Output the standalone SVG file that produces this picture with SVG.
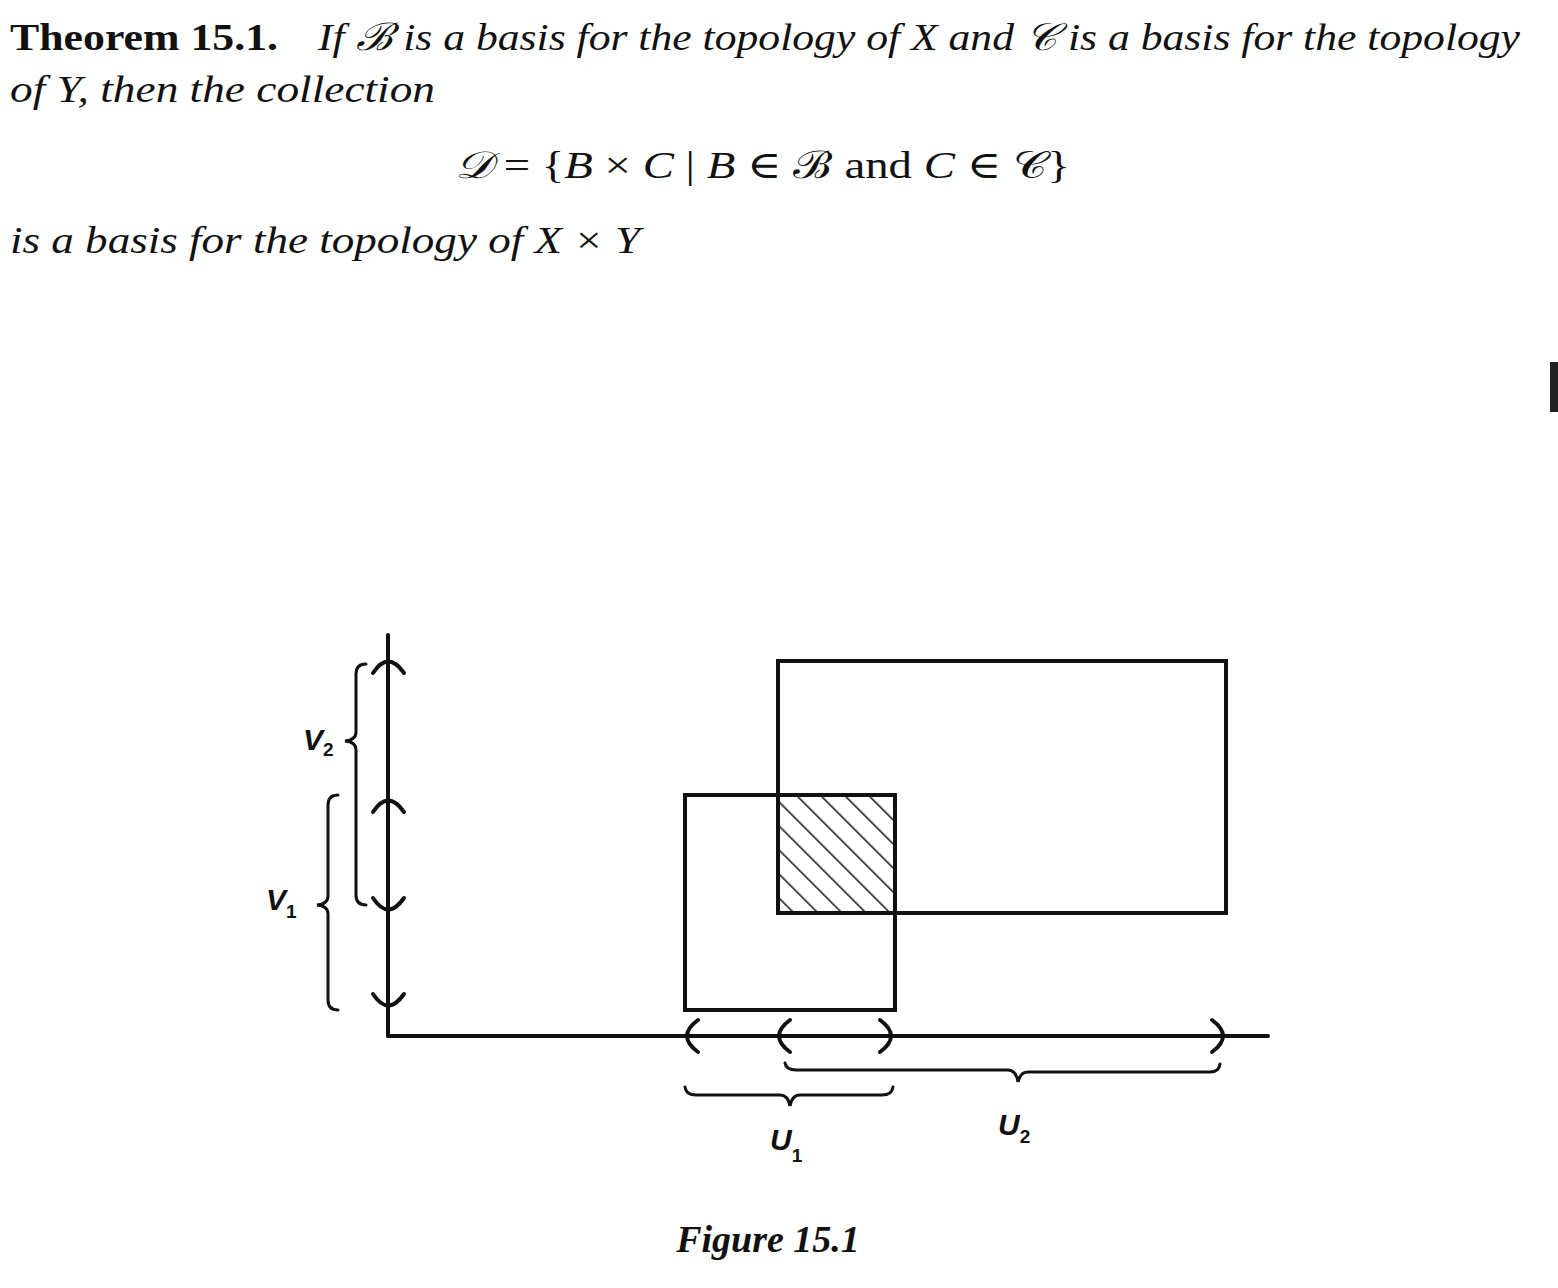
<svg xmlns="http://www.w3.org/2000/svg" width="1558" height="1288" viewBox="0 0 1558 1288">
<style>
.t{font-family:"Liberation Serif","DejaVu Serif",serif;font-size:38px;fill:#111}
.i{font-style:italic}
.l{font-family:"Liberation Sans",sans-serif;font-weight:bold;font-style:italic;font-size:30px;fill:#111}
.s{font-size:19px;font-style:normal}
.k{fill:none;stroke:#111;stroke-width:4;stroke-linecap:round}
.b{fill:none;stroke:#111;stroke-width:3;stroke-linecap:round}
</style>
<defs>
<pattern id="h" patternUnits="userSpaceOnUse" width="17" height="17" patternTransform="rotate(-45)">
<line x1="0" y1="0" x2="0" y2="17" stroke="#111" stroke-width="3"/>
</pattern>
</defs>
<rect width="1558" height="1288" fill="#fff"/>
<g id="text">
<text class="t" x="10" y="50" font-weight="bold" textLength="268" lengthAdjust="spacingAndGlyphs">Theorem 15.1.</text>
<text class="t i" x="318" y="50" textLength="1202" lengthAdjust="spacingAndGlyphs">If ℬ is a basis for the topology of X and 𝒞 is a basis for the topology</text>
<text class="t i" x="10" y="102" textLength="425" lengthAdjust="spacingAndGlyphs">of Y, then the collection</text>
<text class="t" x="455" y="178" textLength="615" lengthAdjust="spacingAndGlyphs"><tspan class="i">𝒟</tspan> = {<tspan class="i">B</tspan> × <tspan class="i">C</tspan> | <tspan class="i">B</tspan> ∈ ℬ and <tspan class="i">C</tspan> ∈ 𝒞}</text>
<text class="t i" x="10" y="253" textLength="630" lengthAdjust="spacingAndGlyphs">is a basis for the topology of X × Y</text>
<text class="t i" x="768" y="1252" text-anchor="middle" font-weight="bold" font-size="34">Figure 15.1</text>
</g>
<rect x="1550" y="362" width="8" height="50" fill="#222"/>
<g id="shapes">
<rect x="685" y="795" width="210" height="215" class="k"/>
<rect x="778" y="795" width="117" height="118" fill="url(#h)"/>
<rect x="778" y="661" width="448" height="252" class="k"/>
<rect x="778" y="795" width="117" height="118" class="k"/>
</g>
<g id="connectors">
<line x1="388" y1="635" x2="388" y2="1036" class="k"/>
<line x1="388" y1="1036" x2="1268" y2="1036" class="k"/>
<path class="k" d="M373 673 Q388 650 404 673"/>
<path class="k" d="M373 812 Q388 789 404 812"/>
<path class="k" d="M373 898 Q388 921 404 898"/>
<path class="k" d="M373 994 Q388 1017 404 994"/>
<path class="k" d="M698 1020 Q676 1036 698 1052"/>
<path class="k" d="M790 1020 Q768 1036 790 1052"/>
<path class="k" d="M880 1020 Q902 1036 880 1052"/>
<path class="k" d="M1212 1020 Q1234 1036 1212 1052"/>
<path class="b" d="M366 664 Q356 664 356 674 L356 732 Q356 740 345 741 Q356 742 356 750 L356 895 Q356 905 366 905"/>
<path class="b" d="M338 795 Q328 795 328 805 L328 896 Q328 904 317 905 Q328 906 328 914 L328 1000 Q328 1010 338 1010"/>
<path class="b" d="M685 1087 Q686 1095 696 1095 L780 1095 Q788 1095 790 1106 Q792 1095 800 1095 L882 1095 Q892 1095 893 1087"/>
<path class="b" d="M785 1063 Q786 1070 796 1070 L1008 1070 Q1016 1070 1018 1082 Q1020 1072 1028 1072 L1210 1072 Q1219 1072 1220 1064"/>
</g>
<g id="labels">
<text class="l" x="303" y="750">V<tspan class="s" dy="6">2</tspan></text>
<text class="l" x="266" y="910">V<tspan class="s" dy="8">1</tspan></text>
<text class="l" x="770" y="1150">U<tspan class="s" dy="12">1</tspan></text>
<text class="l" x="998" y="1135">U<tspan class="s" dy="8">2</tspan></text>
</g>
</svg>
